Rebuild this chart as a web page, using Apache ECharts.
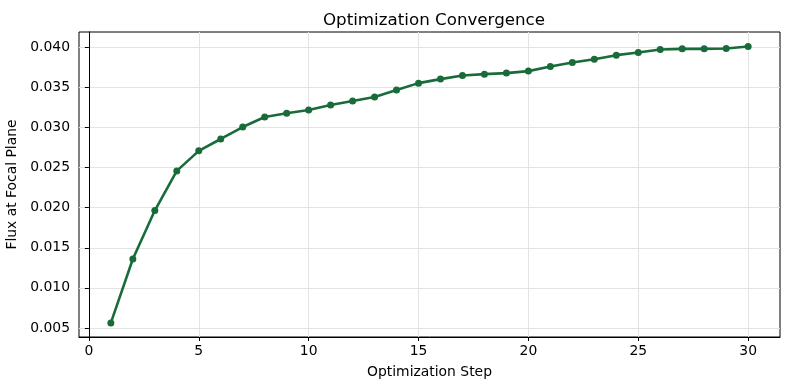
<!DOCTYPE html>
<html>
<head>
<meta charset="utf-8">
<script src="https://cdn.jsdelivr.net/npm/echarts@6/dist/echarts.min.js"></script>
<style>
html,body{margin:0;padding:0;background:#fff;}
#c{width:790px;height:390px;}
</style>
</head>
<body>
<div id="c"></div>
<script>
const steps = [1,2,3,4,5,6,7,8,9,10,11,12,13,14,15,16,17,18,19,20,21,22,23,24,25,26,27,28,29,30];
const flux = [0.00563,0.0136,0.01965,0.0246,0.0271,0.02858,0.03007,0.03132,0.03178,0.03219,
              0.03281,0.03331,0.03381,0.03468,0.03555,0.03605,0.0365,0.03667,0.0368,0.03705,
              0.03763,0.03813,0.03854,0.03904,0.03937,0.03975,0.03983,0.03983,0.03988,0.04012];
const xTicks = [0,5,10,15,20,25,30];
const yTicks = [0.005,0.010,0.015,0.020,0.025,0.030,0.035,0.040];

const font = 'DejaVu Sans';
const chart = echarts.init(document.getElementById('c'), null, {renderer:'canvas'});
chart.setOption({
  animation:false,
  title:{text:'Optimization Convergence', left:429, top:7, textAlign:'center',
    textStyle:{fontFamily:font, fontSize:16.7, fontWeight:'normal', color:'#000'}},
  grid:{left:79, right:10, top:32, bottom:53, containLabel:false, outerBoundsMode:'none',
    show:true, borderColor:'#000', borderWidth:1, backgroundColor:'transparent'},
  xAxis:{type:'value', min:-0.45, max:31.45,
    name:'Optimization Step', nameLocation:'middle', nameGap:28,
    nameTextStyle:{fontFamily:font, fontSize:13.9, color:'#000'},
    axisLine:{show:true, lineStyle:{color:'#000', width:1}},
    axisTick:{show:true, length:4, lineStyle:{color:'#000'}, customValues:xTicks},
    axisLabel:{fontFamily:font, fontSize:13.9, color:'#000', margin:7, customValues:xTicks},
    splitLine:{show:true, lineStyle:{color:'#e3e3e3', width:1}}},
  yAxis:{type:'value', min:0.00387, max:0.04193,
    name:'Flux at Focal Plane', nameLocation:'middle', nameGap:54, nameRotate:90,
    nameTextStyle:{fontFamily:font, fontSize:13.9, color:'#000'},
    axisLine:{show:true, lineStyle:{color:'#000', width:1}},
    axisTick:{show:true, length:4, lineStyle:{color:'#000'}, customValues:yTicks},
    axisLabel:{fontFamily:font, fontSize:13.9, color:'#000', margin:9, customValues:yTicks,
      formatter:v=>v.toFixed(3)},
    splitLine:{show:true, lineStyle:{color:'#e3e3e3', width:1}}},
  series:[{type:'line', data:steps.map((s,i)=>[s,flux[i]]),
    symbol:'circle', symbolSize:7, showSymbol:true,
    lineStyle:{color:'#1a6b3a', width:2.6},
    itemStyle:{color:'#1a6b3a'}}]
});
</script>
</body>
</html>
